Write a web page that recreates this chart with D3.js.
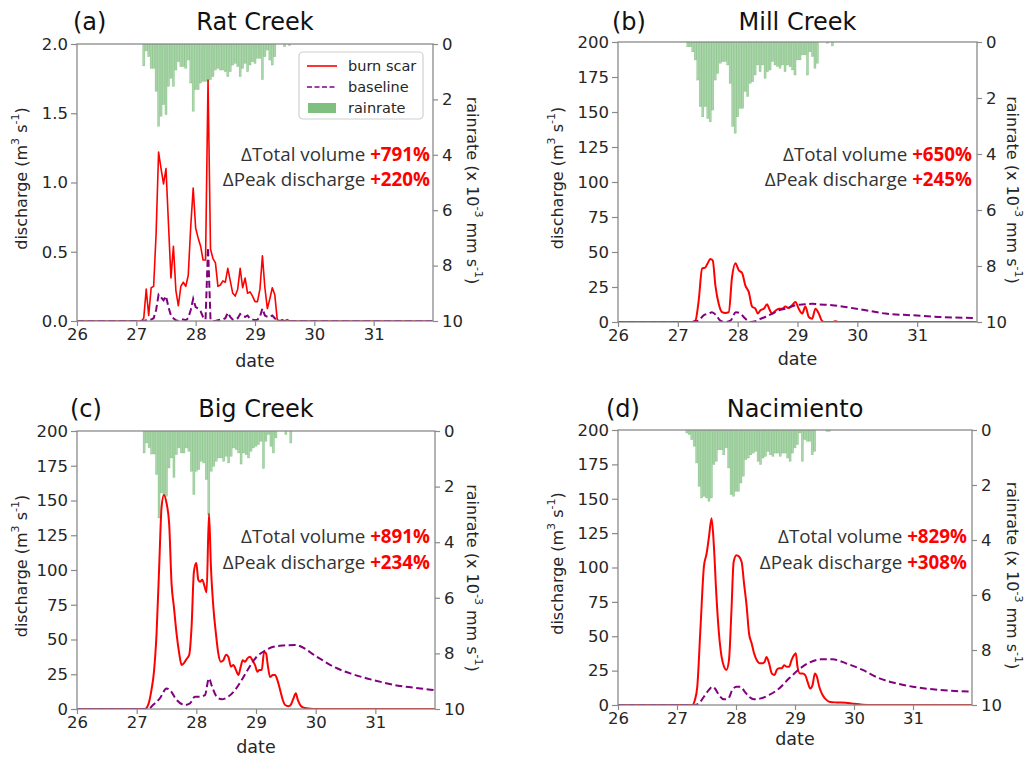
<!DOCTYPE html>
<html><head><meta charset="utf-8">
<script src="https://cdn.jsdelivr.net/npm/d3@7"></script>
<style>body{margin:0;background:#fff} svg{display:block}</style>
</head><body>
<svg id="chart" width="1024" height="757"></svg>
<script>
// ---------------- DATA ----------------
const dayTicks = [26, 27, 28, 29, 30, 31];
const xDomain = [26, 32];
const dischargeTicksA = [0, 0.5, 1.0, 1.5, 2.0];
const dischargeTicks = [0, 25, 50, 75, 100, 125, 150, 175, 200];
const rainTicks = [0, 2, 4, 6, 8, 10];
const titles = ["Rat Creek", "Mill Creek", "Big Creek", "Nacimiento"];
const letters = ["(a)", "(b)", "(c)", "(d)"];
const totalVolume = ["+791%", "+650%", "+891%", "+829%"];
const peakDischarge = ["+220%", "+245%", "+234%", "+308%"];
const legendLabels = ["burn scar", "baseline", "rainrate"];

// rain rate (x1e-3 mm/s), hourly, first hour counted from day 26 00:00
const rainA_start = 27;
const rainA = [0.79,0.25,0.46,0.88,0.88,1.71,2.97,2.61,2.19,2.55,1.53,1.24,1.53,0.94,0.64,0.82,0.82,0.88,0.58,1.41,2.43,1.65,1.65,1.41,1.35,1.35,1.35,1.29,1.18,0.94,0.88,0.94,0.94,1.0,1.18,1.0,0.76,0.70,0.82,1.18,0.88,0.70,1.0,0.76,0.64,0.70,0.52,0.52,1.29,0.46,0.22,0.58,0.76,0.46,0,0,0,0.10,0,0.06];
const rainB_start = 28;
const rainB = [0.17,0.17,0.35,0.64,1.36,2.31,2.67,2.31,2.73,2.85,2.43,1.36,1.12,0.76,0.70,0.70,0.82,1.48,3.02,3.26,2.67,2.37,2.37,1.77,1.95,1.48,1.42,1.18,0.82,1.06,0.82,1.30,1.06,1.00,0.70,0.82,0.88,0.94,0.82,1.06,0.82,0.88,1.00,1.18,0.64,0.64,0.46,0.46,1.18,0.35,0.52,0.94,0.76,0,0,0,0.05,0,0.14];
const rainC_start = 27;
const rainC = [0.79,0.43,0.6,0.83,0.83,1.57,3.13,2.23,2.29,2.35,1.33,0.97,1.67,0.85,0.61,0.79,0.79,0.61,0.73,1.45,2.29,1.45,1.39,1.09,1.15,1.75,3.01,1.45,1.27,1.09,0.97,0.97,1.09,0.91,1.15,0.91,0.61,0.67,0.79,1.19,0.79,0.85,0.97,0.73,0.61,0.55,0.49,0.37,1.35,0.37,0.13,0.55,0.79,0.25,0,0,0,0.13,0,0.43];
const rainD_start = 28;
const rainD = [0.11,0.17,0.35,0.59,1.20,2.05,2.47,2.41,2.47,2.59,2.47,1.26,1.14,0.72,0.72,0.90,0.65,1.38,2.35,2.41,2.23,2.23,1.93,1.68,1.08,1.02,0.90,0.84,0.78,1.14,1.26,1.02,0.96,0.78,0.90,0.96,0.84,0.84,0.96,0.84,0.84,1.02,1.14,0.84,0.65,0.53,0.11,1.14,0.35,0.41,0.41,0.90,0.78,0,0,0,0,0.05,0.05];

// (a) Rat Creek discharge, hourly
const burnA_start = 26;
const burnA = [0,0.02,0.23,0.04,0.24,0.25,0.63,1.22,1.10,0.99,1.10,0.70,0.31,0.54,0.22,0.11,0.25,0.28,0.25,0.33,0.68,0.96,0.67,0.60,0.54,0.44,0.44,1.74,0.52,0.45,0.42,0.25,0.26,0.29,0.28,0.38,0.29,0.20,0.18,0.23,0.38,0.24,0.31,0.20,0.21,0.18,0.14,0.14,0.23,0.47,0.24,0.09,0.16,0.24,0.19,0.01,0,0.01,0,0.01,0];
const baseA_start = 27;
const baseA = [0,0.005,0.01,0.01,0.02,0.08,0.19,0.17,0.15,0.18,0.10,0.04,0.02,0.005,0,0.01,0.01,0.005,0.02,0.08,0.16,0.10,0.09,0.07,0.03,0.01,0.53,0.01,0,0,0.005,0.01,0.01,0.02,0.06,0.03,0.01,0.01,0.02,0.05,0.035,0.03,0.04,0.015,0.01,0.005,0.01,0.03,0.09,0.04,0.03,0.03,0.04,0.02,0.005,0];

// (b) Mill Creek
const burnB_t = [26,27.237,27.293,27.349,27.405,27.460,27.499,27.544,27.583,27.628,27.683,27.739,27.795,27.851,27.906,27.962,28.018,28.074,28.129,28.185,28.241,28.297,28.336,28.380,28.436,28.492,28.531,28.575,28.631,28.687,28.742,28.798,28.854,28.910,28.965,29.021,29.077,29.133,29.188,29.244,29.300,29.356,29.411,29.467,29.579,29.634,29.690,32];
const burnB_v = [0,0,1,15.5,38,39,42,45,44,26,13,7,6.4,7,32,42,37,35,26,21.5,11,9.5,6,8.4,9.5,12.6,9,6,8,9.5,9.5,11,10,12,14.3,9.5,6,11,3.6,2.4,9.5,6,0.7,0,0,0.6,0,0];
const baseB_t = [26,27.24,27.35,27.43,27.52,27.57,27.64,27.71,27.79,27.88,27.97,28.05,28.10,28.16,28.21,28.30,28.35,28.46,28.58,28.69,28.80,28.97,29.13,29.24,29.36,29.58,29.80,30.14,30.47,30.92,31.36,31.98];
const baseB_v = [0,0,1,4.8,6,7,4.8,1,0,1,7,6,3.6,1.2,0,0.5,1.7,3.6,6,8.4,9.5,12,12.6,13,12.6,12,10.7,8.4,6,4.8,3.6,2.9];

// (c) Big Creek
const burnC_t = [26,27.137,27.193,27.249,27.288,27.333,27.377,27.417,27.456,27.501,27.545,27.585,27.624,27.669,27.713,27.753,27.792,27.837,27.881,27.920,27.960,27.999,28.032,28.060,28.100,28.139,28.172,28.212,28.245,28.285,28.329,28.368,28.408,28.452,28.497,28.536,28.581,28.620,28.665,28.704,28.744,28.777,28.816,28.856,28.900,28.940,28.984,29.023,29.057,29.096,29.135,29.169,29.197,29.236,29.281,29.320,29.359,29.404,29.449,29.488,29.544,29.583,29.628,29.667,29.701,29.740,29.796,29.908,30.02,32];
const burnC_v = [0,0,3,14,26,54,102,145,154,148,133,90,73.5,54,40,31.6,33,36,39,59,99,105,93,91.5,93,88,84,140.6,102,73.5,54,40,34,35,39,37.6,30.4,31.6,28,24.4,30.4,35,34,36.4,37.6,35,31.6,26.8,28,28,41,40,31.6,23,24.4,24.4,20.8,13.7,6.5,2.9,2,3,7.7,11.3,6.5,2.9,1,0.2,0,0];
const baseC_t = [26,27.20,27.277,27.389,27.501,27.557,27.669,27.809,27.893,27.976,28.060,28.144,28.212,28.256,28.340,28.424,28.536,28.648,28.760,28.872,29.012,29.152,29.292,29.460,29.656,30.020,30.300,30.580,30.860,31.140,31.420,31.756,31.98];
const baseC_v = [0,0,3,7.7,14.8,13.6,6.5,2.9,4,8.9,8.9,10,22,17,8.9,7,8.9,13.6,20.8,29,37.6,42,44.8,45.7,46,37.6,30.4,25.6,22,19,16.5,14.8,13.6];

// (d) Nacimiento
const burnD_t = [26,27.258,27.303,27.343,27.399,27.456,27.501,27.541,27.586,27.626,27.666,27.711,27.756,27.796,27.836,27.881,27.921,27.960,28.006,28.051,28.096,28.136,28.181,28.221,28.266,28.306,28.351,28.402,28.448,28.487,28.516,28.561,28.606,28.652,28.691,28.731,28.776,28.816,28.856,28.901,28.941,28.986,29.014,29.042,29.082,29.127,29.173,29.212,29.258,29.297,29.337,29.371,29.411,29.467,29.524,29.581,29.694,29.864,29.977,30.147,30.317,32];
const burnD_v = [0,0,3.6,13,57,100.6,110,122,135.8,115,81,52,35,28,25.5,32.7,66.7,104,109,108,104,88.5,71.5,52,44.8,37.6,32.7,30.3,30.3,31.5,35,30.3,23,21.8,25.5,26.7,26.7,29,27.9,27.9,32.7,36.4,37.6,27.9,23,23,21.8,17,12,14.5,23,20.6,13.3,7.3,4.1,2.4,1.9,1.7,1,0.2,0,0];
const baseD_t = [26,27.30,27.371,27.456,27.541,27.598,27.643,27.711,27.796,27.870,27.938,28.006,28.079,28.147,28.221,28.306,28.419,28.561,28.731,28.901,29.071,29.241,29.439,29.637,29.864,30.147,30.431,30.714,30.997,31.337,31.620,31.99];
const baseD_v = [0,0,1.2,6,11,13.3,12,7.3,4.1,4.8,11,13.3,13.3,9.7,6,4.1,4.8,7.3,12,19.4,26,30.8,33.2,33.2,30.3,25.5,19.4,15.8,13.3,11.4,10.4,9.7];

// ---------------- LAYOUT ----------------
const hourly = (start, vals) => vals.map((v, i) => [26 + (start + i) / 24, v]);
const pairs = (t, v) => t.map((d, i) => [d, v[i]]);

const panels = [
  {L:77, R:433, T:44, B:321, yMax:2.0, ticks:dischargeTicksA, fmt:d3.format(".1f"),
   rain:hourly(rainA_start, rainA),
   burn:[[26,0]].concat(hourly(burnA_start, burnA), [[32,0]]),
   base:[[26,0]].concat(hourly(baseA_start, baseA), [[32,0]]),
   curve:d3.curveLinear, lw:1.6,
   letterX:73, titleY:30, ylabX:21, rlabX:473, dateY:367, annX:430, annY:[161,186], legend:true},
  {L:618, R:977, T:42, B:322, yMax:200, ticks:dischargeTicks, fmt:d3.format("d"),
   rain:hourly(rainB_start, rainB), burn:pairs(burnB_t, burnB_v), base:pairs(baseB_t, baseB_v),
   curve:d3.curveMonotoneX, lw:2,
   letterX:612, titleY:30, ylabX:557, rlabX:1013, dateY:365, annX:972, annY:[161,186]},
  {L:77, R:435, T:431, B:709, yMax:200, ticks:dischargeTicks, fmt:d3.format("d"),
   rain:hourly(rainC_start, rainC), burn:pairs(burnC_t, burnC_v), base:pairs(baseC_t, baseC_v),
   curve:d3.curveMonotoneX, lw:2,
   letterX:70, titleY:417, ylabX:21, rlabX:473, dateY:753, annX:430, annY:[543,569]},
  {L:618, R:972, T:430, B:705, yMax:200, ticks:dischargeTicks, fmt:d3.format("d"),
   rain:hourly(rainD_start, rainD), burn:pairs(burnD_t, burnD_v), base:pairs(baseD_t, baseD_v),
   curve:d3.curveMonotoneX, lw:2,
   letterX:606, titleY:417, ylabX:557, rlabX:1013, dateY:745, annX:967, annY:[543,569]}
];

const svg = d3.select("#chart");
const FONT = "DejaVu Sans, sans-serif";
const SPINE = "#8a8a8a";
const TXT = "#262626";
const RED = "#ff0000", PURPLE = "#800080", GREEN = "#008000";

panels.forEach((p, i) => {
  const g = svg.append("g");
  const x = d3.scaleLinear().domain(xDomain).range([p.L, p.R]);
  const y = d3.scaleLinear().domain([0, p.yMax]).range([p.B, p.T]);
  const yr = d3.scaleLinear().domain([0, 10]).range([p.T, p.B]);

  const clipId = "clip" + i;
  g.append("clipPath").attr("id", clipId).append("rect")
    .attr("x", p.L).attr("y", p.T).attr("width", p.R - p.L).attr("height", p.B - p.T);

  const plot = g.append("g").attr("clip-path", `url(#${clipId})`);
  const line = d3.line().x(d => x(d[0])).y(d => y(d[1])).curve(p.curve);

  plot.append("path").datum(p.burn).attr("d", line)
    .attr("fill", "none").attr("stroke", RED).attr("stroke-width", p.lw).attr("stroke-linejoin", "round");
  plot.append("path").datum(p.base).attr("d", line)
    .attr("fill", "none").attr("stroke", PURPLE).attr("stroke-width", 2)
    .attr("stroke-dasharray", "7,3.5");

  const bw = x(26 + 0.85 / 24) - x(26);
  plot.selectAll("rect.rain").data(p.rain.filter(d => d[1] > 0)).join("rect")
    .attr("class", "rain")
    .attr("x", d => x(d[0]) - bw / 2).attr("width", bw)
    .attr("y", yr(0)).attr("height", d => yr(d[1]) - yr(0))
    .attr("fill", GREEN).attr("fill-opacity", 0.33)
    .attr("stroke", GREEN).attr("stroke-opacity", 0.3).attr("stroke-width", 0.5);

  // frame
  g.append("rect").attr("x", p.L).attr("y", p.T).attr("width", p.R - p.L).attr("height", p.B - p.T)
    .attr("fill", "none").attr("stroke", SPINE).attr("stroke-width", 1.3);

  const styleAxis = sel => {
    sel.select(".domain").remove();
    sel.selectAll(".tick line").attr("stroke", SPINE).attr("stroke-width", 1.2);
    sel.selectAll(".tick text").attr("fill", TXT).style("font-family", FONT).style("font-size", "16.5px");
  };
  g.append("g").attr("transform", `translate(${p.L},0)`)
    .call(d3.axisLeft(y).tickValues(p.ticks).tickFormat(p.fmt).tickSize(6).tickPadding(3)).call(styleAxis);
  g.append("g").attr("transform", `translate(${p.R},0)`)
    .call(d3.axisRight(yr).tickValues(rainTicks).tickFormat(d3.format("d")).tickSize(5).tickPadding(4)).call(styleAxis);
  g.append("g").attr("transform", `translate(0,${p.B})`)
    .call(d3.axisBottom(x).tickValues(dayTicks).tickFormat(d3.format("d")).tickSize(5).tickPadding(2)).call(styleAxis);

  // titles
  g.append("text").attr("x", p.letterX).attr("y", p.titleY).text(letters[i])
    .style("font-family", FONT).style("font-size", "24px").attr("fill", "#111");
  g.append("text").attr("x", (p.L + p.R) / 2).attr("y", p.titleY).attr("text-anchor", "middle").text(titles[i])
    .style("font-family", FONT).style("font-size", "24px").attr("fill", "#111");

  // x label
  g.append("text").attr("x", (p.L + p.R) / 2).attr("y", p.dateY).attr("text-anchor", "middle").text("date")
    .style("font-family", FONT).style("font-size", "17.5px").attr("fill", TXT);

  // y label (left)
  const cy = (p.T + p.B) / 2;
  const yl = g.append("text").attr("transform", `translate(${p.ylabX},${cy - 4}) rotate(-90)`)
    .attr("text-anchor", "middle").attr("dominant-baseline", "central")
    .style("font-family", FONT).style("font-size", "16px").attr("fill", TXT);
  yl.append("tspan").text("discharge (m");
  yl.append("tspan").attr("dy", -6).style("font-size", "11px").text("3");
  yl.append("tspan").attr("dy", 6).text(" s");
  yl.append("tspan").attr("dy", -6).style("font-size", "11px").text("-1");
  yl.append("tspan").attr("dy", 6).text(")");

  // right label
  const rl = g.append("text").attr("transform", `translate(${p.rlabX},${cy + 8}) rotate(90)`)
    .attr("text-anchor", "middle").attr("dominant-baseline", "central")
    .style("font-family", FONT).style("font-size", "16px").attr("fill", TXT);
  rl.append("tspan").text("rainrate (x 10");
  rl.append("tspan").attr("dy", -6).style("font-size", "11px").text("-3");
  rl.append("tspan").attr("dy", 6).text(" mm s");
  rl.append("tspan").attr("dy", -6).style("font-size", "11px").text("-1");
  rl.append("tspan").attr("dy", 6).text(")");

  // annotations
  const ann = [["\u0394Total volume ", totalVolume[i]], ["\u0394Peak discharge ", peakDischarge[i]]];
  ann.forEach((a, k) => {
    const t = g.append("text").attr("x", p.annX).attr("y", p.annY[k]).attr("text-anchor", "end")
      .style("font-family", "Open Sans, sans-serif").style("font-size", "18.8px");
    t.append("tspan").attr("fill", "#333").text(a[0]);
    t.append("tspan").attr("fill", RED).attr("font-weight", "bold").text(a[1]);
  });

  // legend
  if (p.legend) {
    const lg = g.append("g");
    lg.append("rect").attr("x", 299).attr("y", 52).attr("width", 124).attr("height", 67).attr("rx", 4)
      .attr("fill", "#fff").attr("fill-opacity", 0.85).attr("stroke", "#cfcfcf").attr("stroke-width", 1.2);
    const rows = [66, 87, 108];
    lg.append("line").attr("x1", 307).attr("x2", 337).attr("y1", rows[0]).attr("y2", rows[0])
      .attr("stroke", RED).attr("stroke-width", 1.6);
    lg.append("line").attr("x1", 307).attr("x2", 337).attr("y1", rows[1]).attr("y2", rows[1])
      .attr("stroke", PURPLE).attr("stroke-width", 1.6).attr("stroke-dasharray", "5,2.5");
    lg.append("rect").attr("x", 308).attr("y", rows[2] - 5).attr("width", 28).attr("height", 10)
      .attr("fill", GREEN).attr("fill-opacity", 0.5);
    legendLabels.forEach((lab, k) => {
      lg.append("text").attr("x", 348).attr("y", rows[k]).attr("dominant-baseline", "central").text(lab)
        .style("font-family", FONT).style("font-size", "14.5px").attr("fill", TXT);
    });
  }
});
</script>
</body></html>
